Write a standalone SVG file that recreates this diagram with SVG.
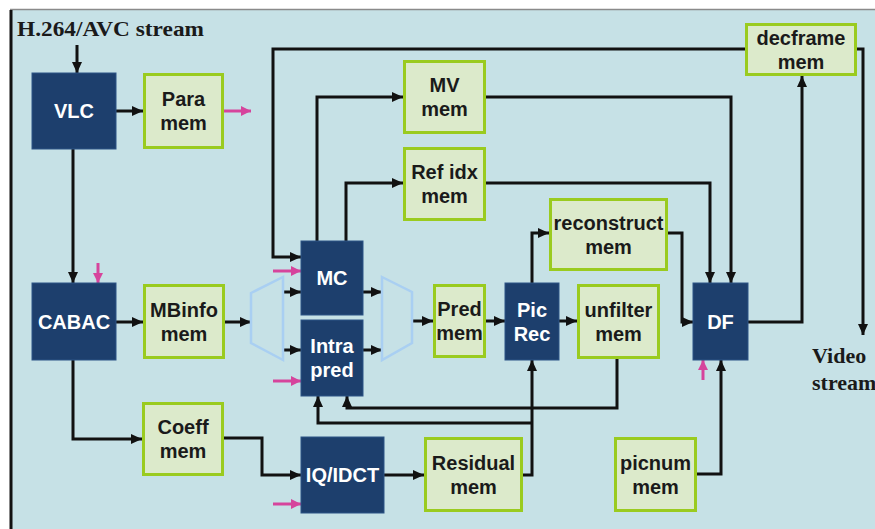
<svg xmlns="http://www.w3.org/2000/svg" width="875" height="529" viewBox="0 0 875 529">
<style>
.bg{fill:#c6e1e6}
.dk{fill:#1d3f6d;stroke:#2c5586;stroke-width:1}
.gr{fill:#dceacb;stroke:#9acb1f;stroke-width:3}
.tw{font-family:"Liberation Sans",Arial,sans-serif;font-weight:bold;font-size:20px;fill:#ffffff;text-anchor:middle}
.tb{font-family:"Liberation Sans",Arial,sans-serif;font-weight:bold;font-size:20px;fill:#1a1a1a;text-anchor:middle}
.ts{font-family:"Liberation Serif","Times New Roman",serif;font-weight:bold;font-size:21px;fill:#1a1a1a}
.tv{font-family:"Liberation Serif","Times New Roman",serif;font-weight:bold;font-size:22px;fill:#1a1a1a}
.c{fill:none;stroke:#111111;stroke-width:3;stroke-linejoin:miter}
.cp{fill:none;stroke:#d6449c;stroke-width:3}
.tr{fill:none;stroke:#a9cff2;stroke-width:2.5}
</style>
<defs>
<marker id="ah" markerUnits="userSpaceOnUse" markerWidth="12" markerHeight="12" refX="11" refY="6" orient="auto">
<path d="M0,1 L11,6 L0,11 Z" fill="#111111"/>
</marker>
<marker id="ap" markerUnits="userSpaceOnUse" markerWidth="12" markerHeight="12" refX="10" refY="6" orient="auto">
<path d="M0,1 L10,6 L0,11 Z" fill="#d6449c"/>
</marker>
</defs>
<rect x="0" y="0" width="875" height="529" fill="#ffffff"/>
<rect class="bg" x="10" y="10" width="865" height="519"/>
<line x1="10" y1="9.5" x2="875" y2="9.5" stroke="#8a8a8a" stroke-width="1.5"/>
<line x1="11" y1="10" x2="11" y2="529" stroke="#111111" stroke-width="3"/>
<text class="ts" x="17" y="36" textLength="187" lengthAdjust="spacingAndGlyphs">H.264/AVC stream</text>
<text class="tv" x="812" y="363">Video</text>
<text class="tv" x="812" y="390">stream</text>

<g id="connectors">
<path class="c" d="M77,45 V73" marker-end="url(#ah)"/>
<path class="c" d="M116,111 H143" marker-end="url(#ah)"/>
<path class="c" d="M73,149 V283" marker-end="url(#ah)"/>
<path class="c" d="M116,322 H143" marker-end="url(#ah)"/>
<path class="c" d="M225,322 H251" marker-end="url(#ah)"/>
<path class="c" d="M73,360 V439 H142" marker-end="url(#ah)"/>
<path class="c" d="M224,438 H262 V475 H301" marker-end="url(#ah)"/>
<path class="c" d="M745,49 H273 V257 H301" marker-end="url(#ah)"/>
<path class="c" d="M317,241 V97 H403" marker-end="url(#ah)"/>
<path class="c" d="M346,241 V183 H403" marker-end="url(#ah)"/>
<path class="c" d="M282,292 H301" marker-end="url(#ah)"/>
<path class="c" d="M282,350 H301" marker-end="url(#ah)"/>
<path class="c" d="M363,292 H382" marker-end="url(#ah)"/>
<path class="c" d="M363,350 H382" marker-end="url(#ah)"/>
<path class="c" d="M412,321 H433" marker-end="url(#ah)"/>
<path class="c" d="M486,321 H505" marker-end="url(#ah)"/>
<path class="c" d="M532,283 V233 H549" marker-end="url(#ah)"/>
<path class="c" d="M559,321 H577" stroke-width="2" marker-end="url(#ah)"/>
<path class="c" d="M668,233 H682 V322 H693" marker-end="url(#ah)"/>
<path class="c" d="M486,97 H731 V283" marker-end="url(#ah)"/>
<path class="c" d="M486,183 H710 V283" marker-end="url(#ah)"/>
<path class="c" d="M748,322 H802 V76" marker-end="url(#ah)"/>
<path class="c" d="M857,49 H863 V335" marker-end="url(#ah)"/>
<path class="c" d="M697,474 H721 V360" marker-end="url(#ah)"/>
<path class="c" d="M617,359 V408 H347 V396" marker-end="url(#ah)"/>
<path class="c" d="M523,475 H532 V360" marker-end="url(#ah)"/>
<path class="c" d="M532,423 H318 V396" marker-end="url(#ah)"/>
<path class="c" d="M384,475 H424" marker-end="url(#ah)"/>
<path class="cp" d="M224,111 H251" marker-end="url(#ap)"/>
<path class="cp" d="M98,263 V283" marker-end="url(#ap)"/>
<path class="cp" d="M273,271 H301" marker-end="url(#ap)"/>
<path class="cp" d="M273,381 H301" marker-end="url(#ap)"/>
<path class="cp" d="M273,504 H301" marker-end="url(#ap)"/>
<path class="cp" d="M703,380 V360" marker-end="url(#ap)"/>
</g>

<g id="mux"><polygon class="tr" points="251,293 283,277 283,360 251,343"/></g>
<g id="demux"><polygon class="tr" points="382,277 412,292 412,343 382,360"/></g>

<g id="vlc"><rect class="dk" x="32" y="73" width="84" height="76"/><text class="tw" x="74" y="118">VLC</text></g>
<g id="para-mem"><rect class="gr" x="144.5" y="74.5" width="78" height="73"/><text class="tb" x="183.5" y="106">Para</text><text class="tb" x="183.5" y="130">mem</text></g>
<g id="cabac"><rect class="dk" x="32" y="283" width="84" height="77"/><text class="tw" x="74" y="329">CABAC</text></g>
<g id="mbinfo-mem"><rect class="gr" x="144.5" y="285.5" width="79" height="72"/><text class="tb" x="184" y="316.5">MBinfo</text><text class="tb" x="184" y="340.5">mem</text></g>
<g id="coeff-mem"><rect class="gr" x="143.5" y="403.5" width="79" height="71"/><text class="tb" x="183" y="434">Coeff</text><text class="tb" x="183" y="458">mem</text></g>
<g id="mc"><rect class="dk" x="301" y="241" width="62" height="74"/><text class="tw" x="332" y="285">MC</text></g>
<g id="intra-pred"><rect class="dk" x="301" y="320" width="62" height="76"/><text class="tw" x="332" y="353">Intra</text><text class="tw" x="332" y="377">pred</text></g>
<g id="pred-mem"><rect class="gr" x="434.5" y="285.5" width="50" height="71"/><text class="tb" x="459.5" y="316">Pred</text><text class="tb" x="459.5" y="340">mem</text></g>
<g id="pic-rec"><rect class="dk" x="505" y="283" width="54" height="77"/><text class="tw" x="532" y="316.5">Pic</text><text class="tw" x="532" y="340.5">Rec</text></g>
<g id="reconstruct-mem"><rect class="gr" x="550.5" y="199.5" width="116" height="70"/><text class="tb" x="608.5" y="229.5">reconstruct</text><text class="tb" x="608.5" y="253.5">mem</text></g>
<g id="unfilter-mem"><rect class="gr" x="578.5" y="285.5" width="80" height="72"/><text class="tb" x="618.5" y="316.5">unfilter</text><text class="tb" x="618.5" y="340.5">mem</text></g>
<g id="df"><rect class="dk" x="693" y="283" width="55" height="77"/><text class="tw" x="720.5" y="328.5">DF</text></g>
<g id="mv-mem"><rect class="gr" x="404.5" y="61.5" width="80" height="71"/><text class="tb" x="444.5" y="92">MV</text><text class="tb" x="444.5" y="116">mem</text></g>
<g id="refidx-mem"><rect class="gr" x="404.5" y="148.5" width="80" height="71"/><text class="tb" x="444.5" y="179">Ref idx</text><text class="tb" x="444.5" y="203">mem</text></g>
<g id="decframe-mem"><rect class="gr" x="746.5" y="24.5" width="109" height="50"/><text class="tb" x="801" y="44.5">decframe</text><text class="tb" x="801" y="68.5">mem</text></g>
<g id="iq-idct"><rect class="dk" x="301" y="437" width="83" height="76"/><text class="tw" x="342.5" y="482">IQ/IDCT</text></g>
<g id="residual-mem"><rect class="gr" x="425.5" y="438.5" width="96" height="72"/><text class="tb" x="473.5" y="469.5">Residual</text><text class="tb" x="473.5" y="493.5">mem</text></g>
<g id="picnum-mem"><rect class="gr" x="615.5" y="438.5" width="80" height="72"/><text class="tb" x="655.5" y="469.5">picnum</text><text class="tb" x="655.5" y="493.5">mem</text></g>
</svg>
